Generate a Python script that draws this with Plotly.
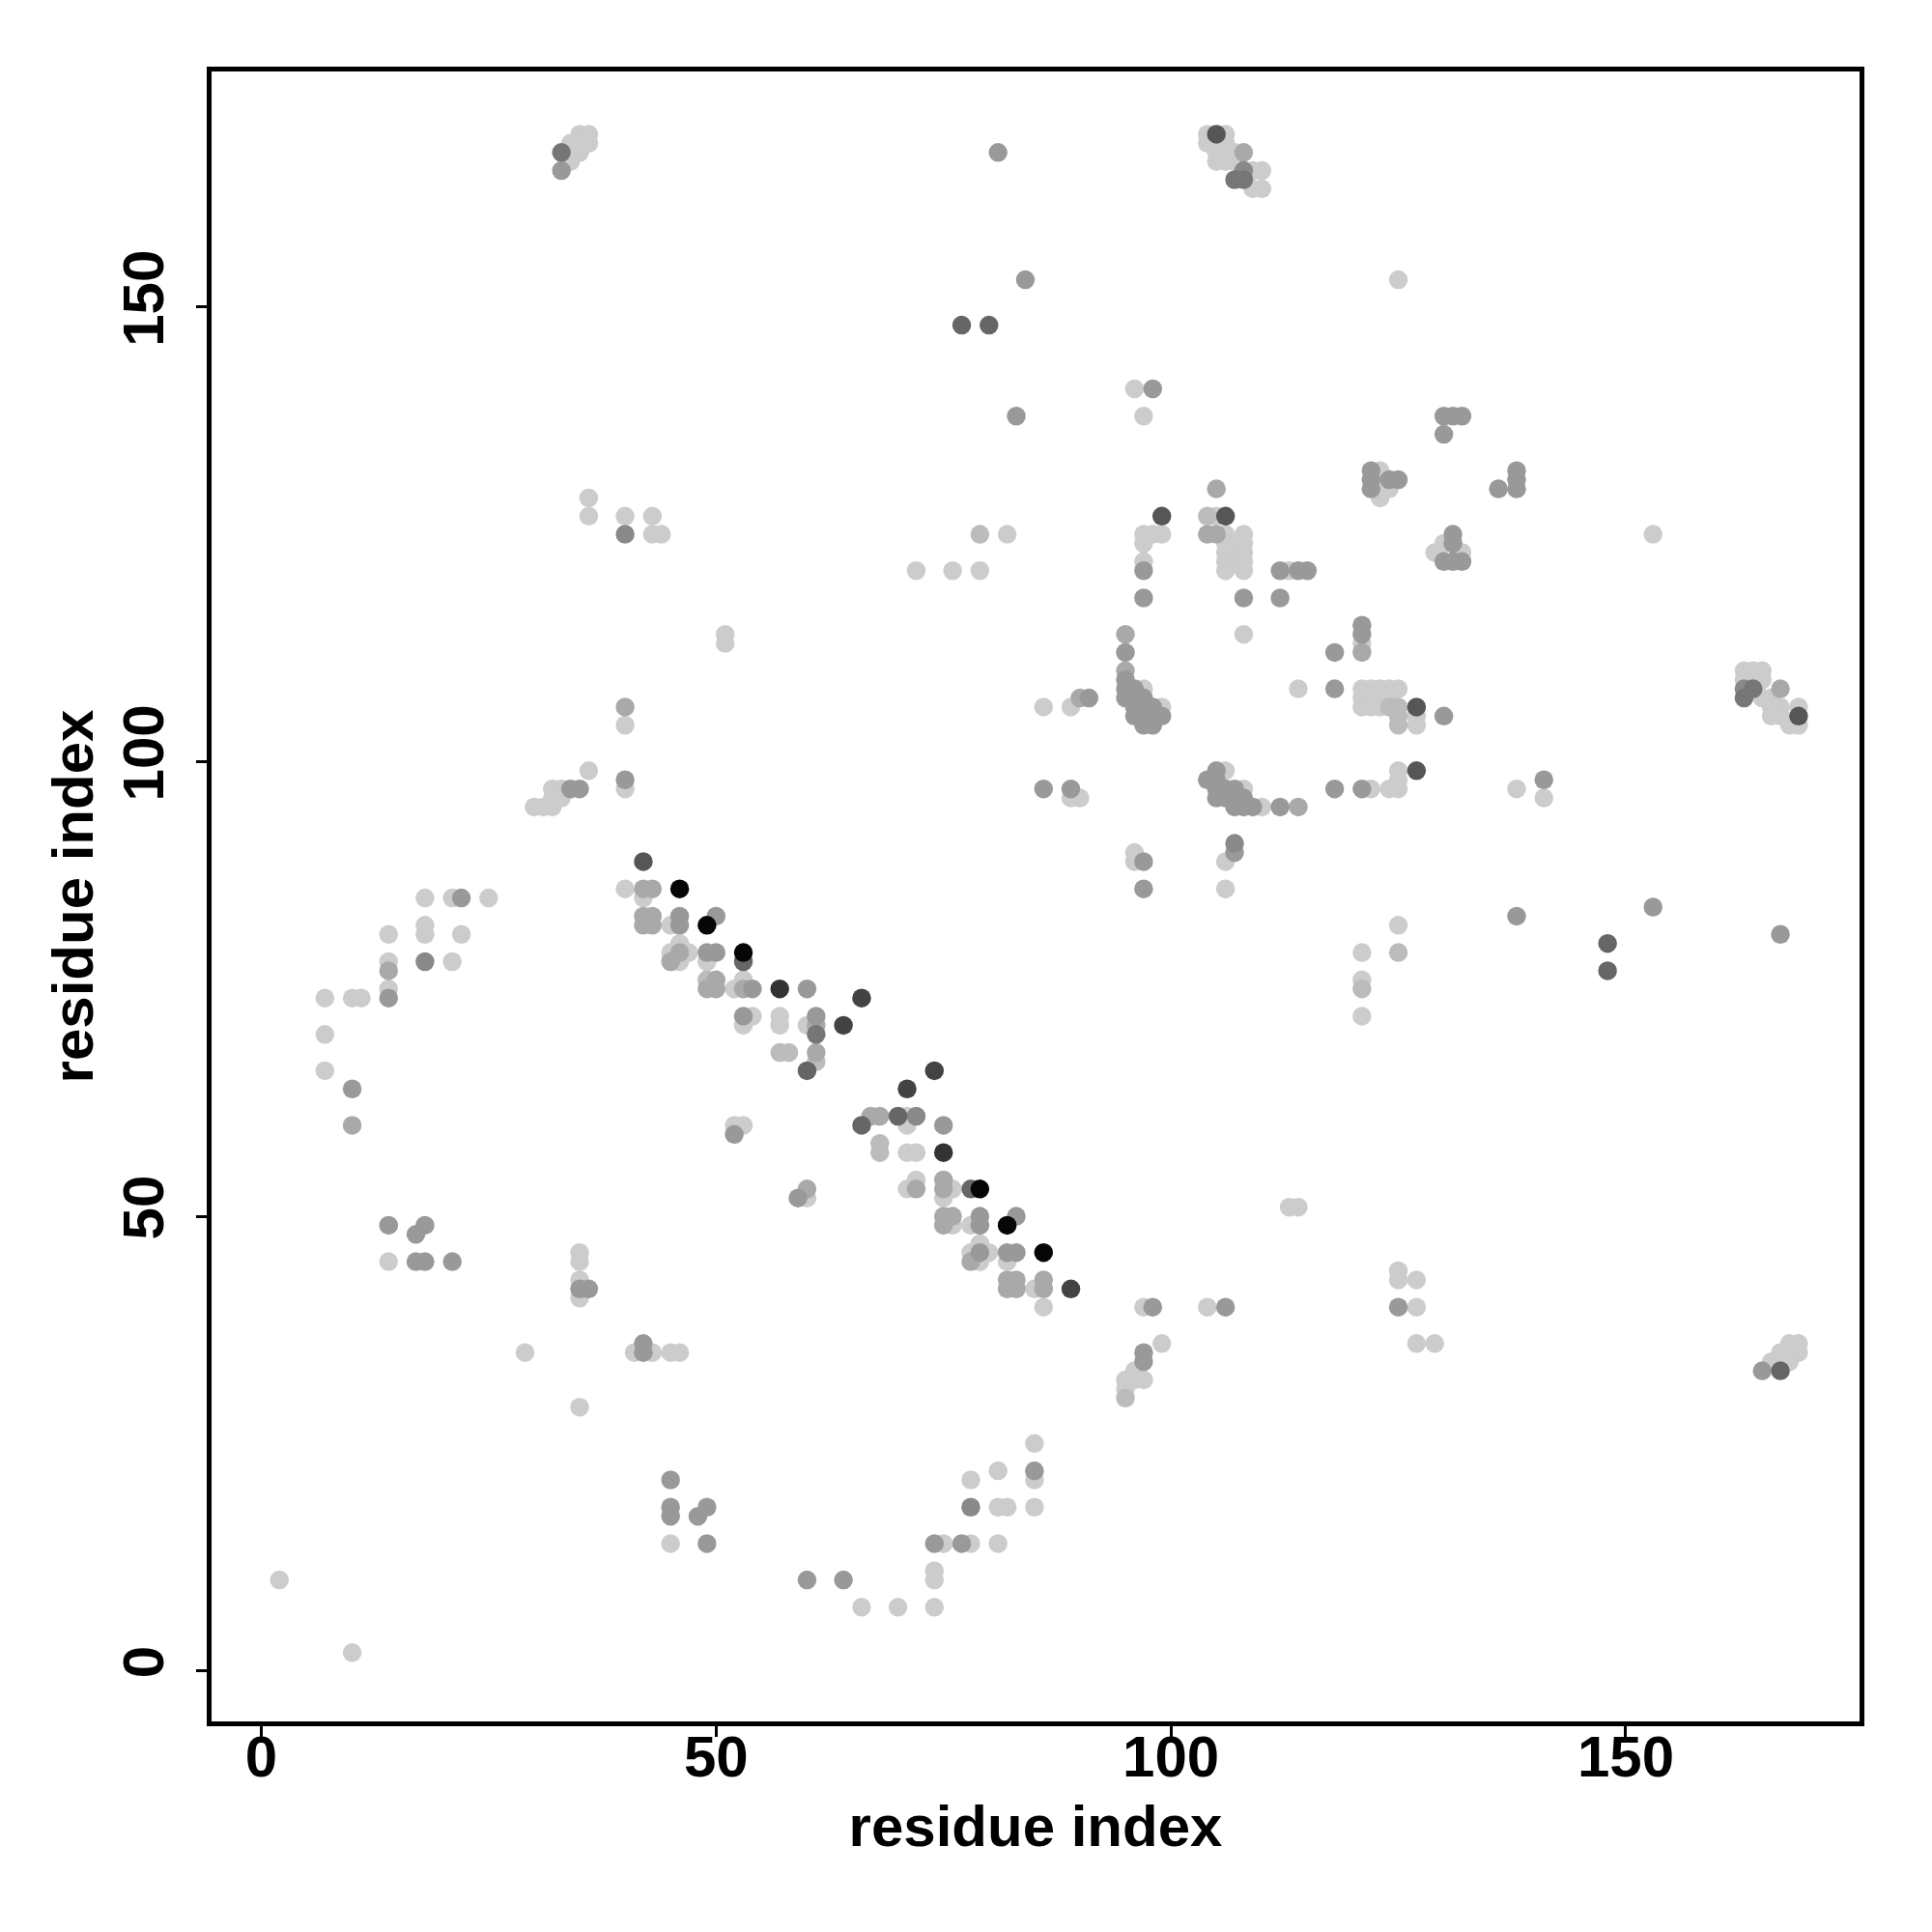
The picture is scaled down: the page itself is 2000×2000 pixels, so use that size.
import plotly.graph_objects as go

# Contact map points (residue i, residue j), grouped by contact score
score_levels = [0.0, 0.08, 0.17, 0.25, 0.33, 0.42, 0.5, 0.58, 0.67, 0.75, 0.97]

pts_000 = [
    (34,168),(35,169),(36,169),(36,168),(34,166),(35,167),(34,167),(35,168),(36,129),(36,127),(40,127),(43,127),(43,125),(44,125),
    (104,169),(106,169),(104,168),(105,167),(106,168),(107,167),(109,165),(110,165),(110,163),(109,163),(105,166),(106,166),(107,166),(105,168),
    (96,141),(97,138),(105,127),(82,125),(97,125),(98,125),(99,125),(97,124),(97,122),(106,125),(106,124),(106,123),(106,122),(106,121),
    (107,124),(107,123),(107,122),(108,125),(108,124),(108,123),(108,122),(108,121),(72,121),(76,121),(79,121),(113,121),
    (125,153),(123,132),(123,131),(123,129),(124,130),(153,125),(129,123),(130,124),(132,123),
    (51,114),(51,113),(40,104),(36,99),(40,97),(32,97),(33,97),(32,96),(33,96),(30,95),(31,95),(32,95),(40,86),(42,85),(45,82),(46,80),
    (45,79),(47,79),(46,78),(49,78),(52,75),(53,76),(54,72),(53,71),(52,60),(53,60),(18,85),(21,85),(25,85),(18,82),(18,81),(22,81),
    (14,81),(14,78),(21,78),(14,75),(7,74),(10,74),(11,74),(7,70),(7,66),
    (108,114),(114,108),(97,108),(86,106),(89,106),(99,106),(106,99),(108,97),(110,95),(106,89),(96,90),(96,89),(106,86),(89,96),(90,96),
    (57,72),(57,71),(60,71),(71,61),(71,60),(71,57),(72,57),
    (60,52),(71,53),(72,54),(76,53),(75,52),(76,49),(78,49),(78,46),(79,47),(80,46),(79,45),(82,45),(85,42),(86,40),(97,40),(104,40),
    (99,36),(96,33),(97,32),(95,32),(95,31),(96,32),(85,25),(81,22),(85,21),(78,21),(81,18),(82,18),(85,18),(75,14),(78,14),(81,14),
    (74,11),(74,10),(66,7),(70,7),(74,7),(113,51),(114,51),
    (14,45),(35,46),(35,45),(35,43),(35,41),(29,35),(41,35),(43,35),(45,35),(46,35),(35,29),(45,14),(2,10),(10,2),
    (121,113),(121,108),(122,108),(123,108),(124,108),(125,108),(121,107),(122,107),(123,107),(124,107),(121,106),(122,106),(123,106),
    (127,105),(127,104),(125,99),(125,98),(125,97),(124,97),(122,97),(138,97),(141,96),(163,110),(164,110),(165,110),(163,109),
    (164,109),(165,109),(166,106),(166,105),(167,106),(169,106),(168,104),(169,104),(167,105),(166,107),(165,107),(125,82),(121,79),
    (121,76),(121,72),
    (125,44),(125,43),(127,43),(127,40),(127,36),(129,36),(166,34),(167,35),(168,36),(169,36),(168,35),(169,35),(167,34),(168,34),
]
pts_008 = [(79,125),(49,76),(125,79),(121,75),(57,68),(58,68),(61,67),(68,58),(68,57),(95,30),(104,127),
           (124,106),(125,106),(125,105),(125,104)]
pts_017 = [(108,167),(105,130),(104,125),(105,125),(40,106),(42,86),(43,86),(42,83),(43,83),(42,82),(43,82),(46,79),(45,78),
           (50,76),(49,75),(50,75),(53,75),(14,77),(10,60),(95,114),(95,110),(90,107),(61,71),(61,68),(67,61),(68,61),(60,53),
           (72,53),(75,54),(75,53),(75,50),(76,50),(75,49),(78,45),(82,43),(83,43),(82,42),(83,42),(86,43),(86,42),(121,112),
           (167,108),(114,95)]
pts_025 = [(33,165),(81,167),(84,153),(98,141),(83,138),(97,121),(97,118),(108,118),(112,118),(112,121),(114,121),(115,121),
           (121,115),(121,114),(118,112),(130,138),(131,138),(132,138),(130,136),(122,132),(122,131),(122,130),(124,131),(125,131),
           (136,130),(138,132),(138,131),(138,130),(131,125),(131,124),(130,122),(131,122),(132,122),
           (40,98),(34,97),(35,97),(46,83),(46,82),(50,83),(49,79),(50,79),(54,75),(53,72),(52,59),(22,85),(14,74),(10,64),
           (95,112),(95,109),(95,108),(95,107),(96,108),(96,107),(96,106),(96,105),(97,107),(97,106),(97,105),(97,104),(98,106),
           (98,105),(98,104),(99,105),(91,107),(86,97),(89,97),(104,98),(105,99),(105,98),(105,97),(105,96),(106,97),(106,96),
           (107,97),(107,96),(107,95),(108,96),(108,95),(109,95),(112,95),(107,90),(97,89),(97,86),(60,75),(61,72),(75,60),
           (59,52),(79,50),(79,49),(83,50),(79,46),(82,46),(83,46),(98,40),(106,40),(97,35),(97,34),(85,22),(74,14),(77,14),
           (60,10),(64,10),
           (14,49),(18,49),(17,48),(17,45),(18,45),(21,45),(35,42),(36,42),(42,36),(42,35),(45,21),(45,18),(45,17),(48,17),
           (49,18),(49,14),
           (118,108),(130,105),(118,97),(121,97),(141,98),(138,83),(153,84),(167,81),(125,40),(165,33)]
pts_033 = [(108,165),(40,125),(18,78),(107,91),(72,61),(78,18),(163,108)]
pts_042 = [(33,167),(107,164),(108,164),(164,108),(163,107),(61,70)]
pts_050 = [(77,148),(80,148),(53,78),(60,66),(66,60),(70,61),(78,53),(148,80),(148,77),(167,33)]
pts_058 = [(105,169),(99,127),(106,127),(42,89),(127,106),(127,99),(169,105)]
pts_067 = [(66,74),(64,71),(74,66),(71,64),(89,42)]
pts_075 = [(57,75),(75,57)]
pts_097 = [(46,86),(49,82),(53,79),(79,53),(82,49),(86,46)]

groups = [pts_000, pts_008, pts_017, pts_025, pts_033, pts_042, pts_050, pts_058, pts_067, pts_075, pts_097]

tick_vals = [0, 50, 100, 150]
axis_title = "residue index"

xs, ys, cs = [], [], []
for s, pts in zip(score_levels, groups):
    for (i, j) in pts:
        xs.append(i)
        ys.append(j)
        cs.append(s)

fig = go.Figure(go.Scatter(
    x=xs, y=ys, mode="markers",
    marker=dict(size=19.5, color=cs, cmin=0, cmax=1,
                colorscale=[[0, "#cccccc"], [1, "#000000"]],
                line=dict(width=0), opacity=1),
    showlegend=False,
))

font_family = "Liberation Sans, Arial, Helvetica, sans-serif"
axis_common = dict(
    tickvals=tick_vals, ticks="outside", ticklen=11, tickwidth=3, tickcolor="black",
    showline=True, linewidth=5, linecolor="black", mirror=True,
    showgrid=False, zeroline=False,
    tickfont=dict(family=font_family, size=60, color="black", weight="bold"),
)
title_font = dict(family=font_family, size=60, color="black", weight="bold")

fig.update_layout(
    width=2000, height=2000,
    margin=dict(l=211, r=83, t=66, b=226),
    paper_bgcolor="white", plot_bgcolor="white",
    xaxis=dict(range=[-5.46, 175.7], ticklabelstandoff=-31,
               title=dict(text=axis_title, standoff=19, font=title_font),
               **axis_common),
    yaxis=dict(range=[-5.56, 175.9], tickangle=-90, ticklabelstandoff=10,
               title=dict(text=axis_title, standoff=1, font=title_font),
               **axis_common),
)

fig.write_html("out.html")
